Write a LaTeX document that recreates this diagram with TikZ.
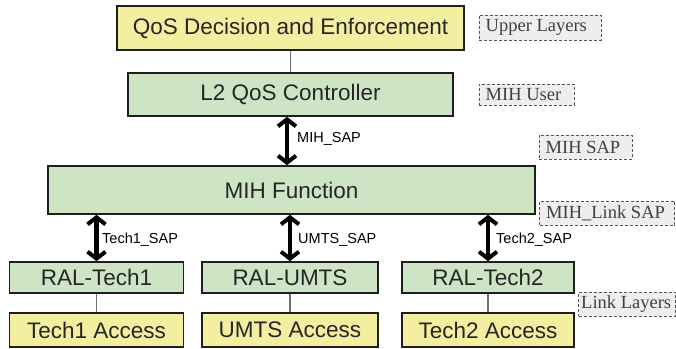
\documentclass[tikz,border=0pt]{standalone}
\usepackage{fontspec}
\setmainfont{Liberation Sans}
\newfontfamily\tagfont{Liberation Serif}
\usetikzlibrary{arrows.meta}
\definecolor{boxyellow}{HTML}{F4EFA0}
\definecolor{boxgreen}{HTML}{CDE5C4}
\definecolor{boxedge}{HTML}{1E1E1E}
\definecolor{tagfill}{HTML}{EEEEEE}
\definecolor{tagedge}{HTML}{555555}
\definecolor{linkline}{HTML}{6E6E6E}
\tikzset{
  block/.style={draw=boxedge, line width=1.6pt, inner sep=0pt, text=black!85},
  ybox/.style={block, fill=boxyellow},
  gbox/.style={block, fill=boxgreen},
  bigtext/.style={font=\fontsize{22.5}{22.5}\selectfont},
  layertag/.style={draw=tagedge, dash pattern=on 3pt off 2pt, line width=1pt, fill=tagfill,
    inner sep=0pt},
  tagtext/.style={anchor=west, inner sep=0pt,
    font=\tagfont\fontsize{18.5}{18.5}\selectfont, text=black!75},
  sap/.style={line width=4.5pt,
    {Straight Barb[length=7pt,width=18pt,line width=4pt]}-{Straight Barb[length=7pt,width=18pt,line width=4pt]}},
  saplabel/.style={anchor=west, inner sep=0pt, font=\fontsize{14.5}{14.5}\selectfont},
  wire/.style={draw=linkline, line width=1.8pt}
}
\begin{document}
\begin{tikzpicture}[x=1pt, y=-1pt]
\useasboundingbox (0,0) rectangle (676,348);

% upper layer and controller
\node[ybox, bigtext, minimum width=347pt, minimum height=44pt]
  (qos) at (290.5,28) {QoS Decision and Enforcement};
\node[gbox, bigtext, minimum width=325pt, minimum height=43pt]
  (l2) at (290.5,94.5) {L2 QoS Controller};
\node[gbox, bigtext, minimum width=487pt, minimum height=48pt]
  (mih) at (291.5,190) {MIH Function};

% radio adaptation layers
\node[gbox, bigtext, minimum width=174pt, minimum height=31pt]
  (ral1) at (96.5,277.5) {RAL-Tech1};
\node[gbox, bigtext, minimum width=176pt, minimum height=31pt]
  (ralu) at (290,277.5) {RAL-UMTS};
\node[gbox, bigtext, minimum width=172pt, minimum height=31pt]
  (ral2) at (488,277.5) {RAL-Tech2};

% access technologies
\node[ybox, bigtext, minimum width=174pt, minimum height=34pt]
  (acc1) at (96.5,330) {Tech1 Access};
\node[ybox, bigtext, minimum width=176pt, minimum height=34pt]
  (accu) at (290,330) {UMTS Access};
\node[ybox, bigtext, minimum width=172pt, minimum height=34pt]
  (acc2) at (488,330) {Tech2 Access};

% plain links
\draw[wire] (qos.south) -- (l2.north);
\draw[wire] (ral1.south) -- (acc1.north);
\draw[wire] (ralu.south) -- (accu.north);
\draw[wire] (ral2.south) -- (acc2.north);

% service access points
\coordinate (mihsaptop) at ([xshift=-3.5pt]l2.south);
\draw[sap] (mihsaptop) -- (mihsaptop |- mih.north);
\draw[sap] (ral1.north) -- (ral1.north |- mih.south);
\draw[sap] (ralu.north) -- (ralu.north |- mih.south);
\draw[sap] (ral2.north) -- (ral2.north |- mih.south);

\node[saplabel] (lmihsap) at (297,139) {MIH\_SAP};
\node[saplabel] (ltech1) at (102,240) {Tech1\_SAP};
\node[saplabel] (lumts) at (298,240) {UMTS\_SAP};
\node[saplabel] (ltech2) at (496,240) {Tech2\_SAP};

% layer tags, text set flush left
\node[layertag, minimum width=122pt, minimum height=25pt] (tupper) at (540,27.5) {};
\node[tagtext] (tupperx) at ([xshift=7pt]tupper.west) {Upper Layers};
\node[layertag, minimum width=95pt, minimum height=21pt] (tuser) at (526.5,94.5) {};
\node[tagtext] (tuserx) at ([xshift=7pt]tuser.west) {MIH User};
\node[layertag, minimum width=93pt, minimum height=24pt] (tsap) at (585.5,147) {};
\node[tagtext] (tsapx) at ([xshift=7pt]tsap.west) {MIH SAP};
\node[layertag, minimum width=135pt, minimum height=24pt] (tlink) at (607,213) {};
\node[tagtext] (tlinkx) at ([xshift=7pt]tlink.west) {MIH\_Link SAP};
\node[layertag, minimum width=97pt, minimum height=24pt] (tll) at (627,304) {};
\node[tagtext] (tllx) at ([xshift=3pt]tll.west) {Link Layers};
\end{tikzpicture}
\end{document}
